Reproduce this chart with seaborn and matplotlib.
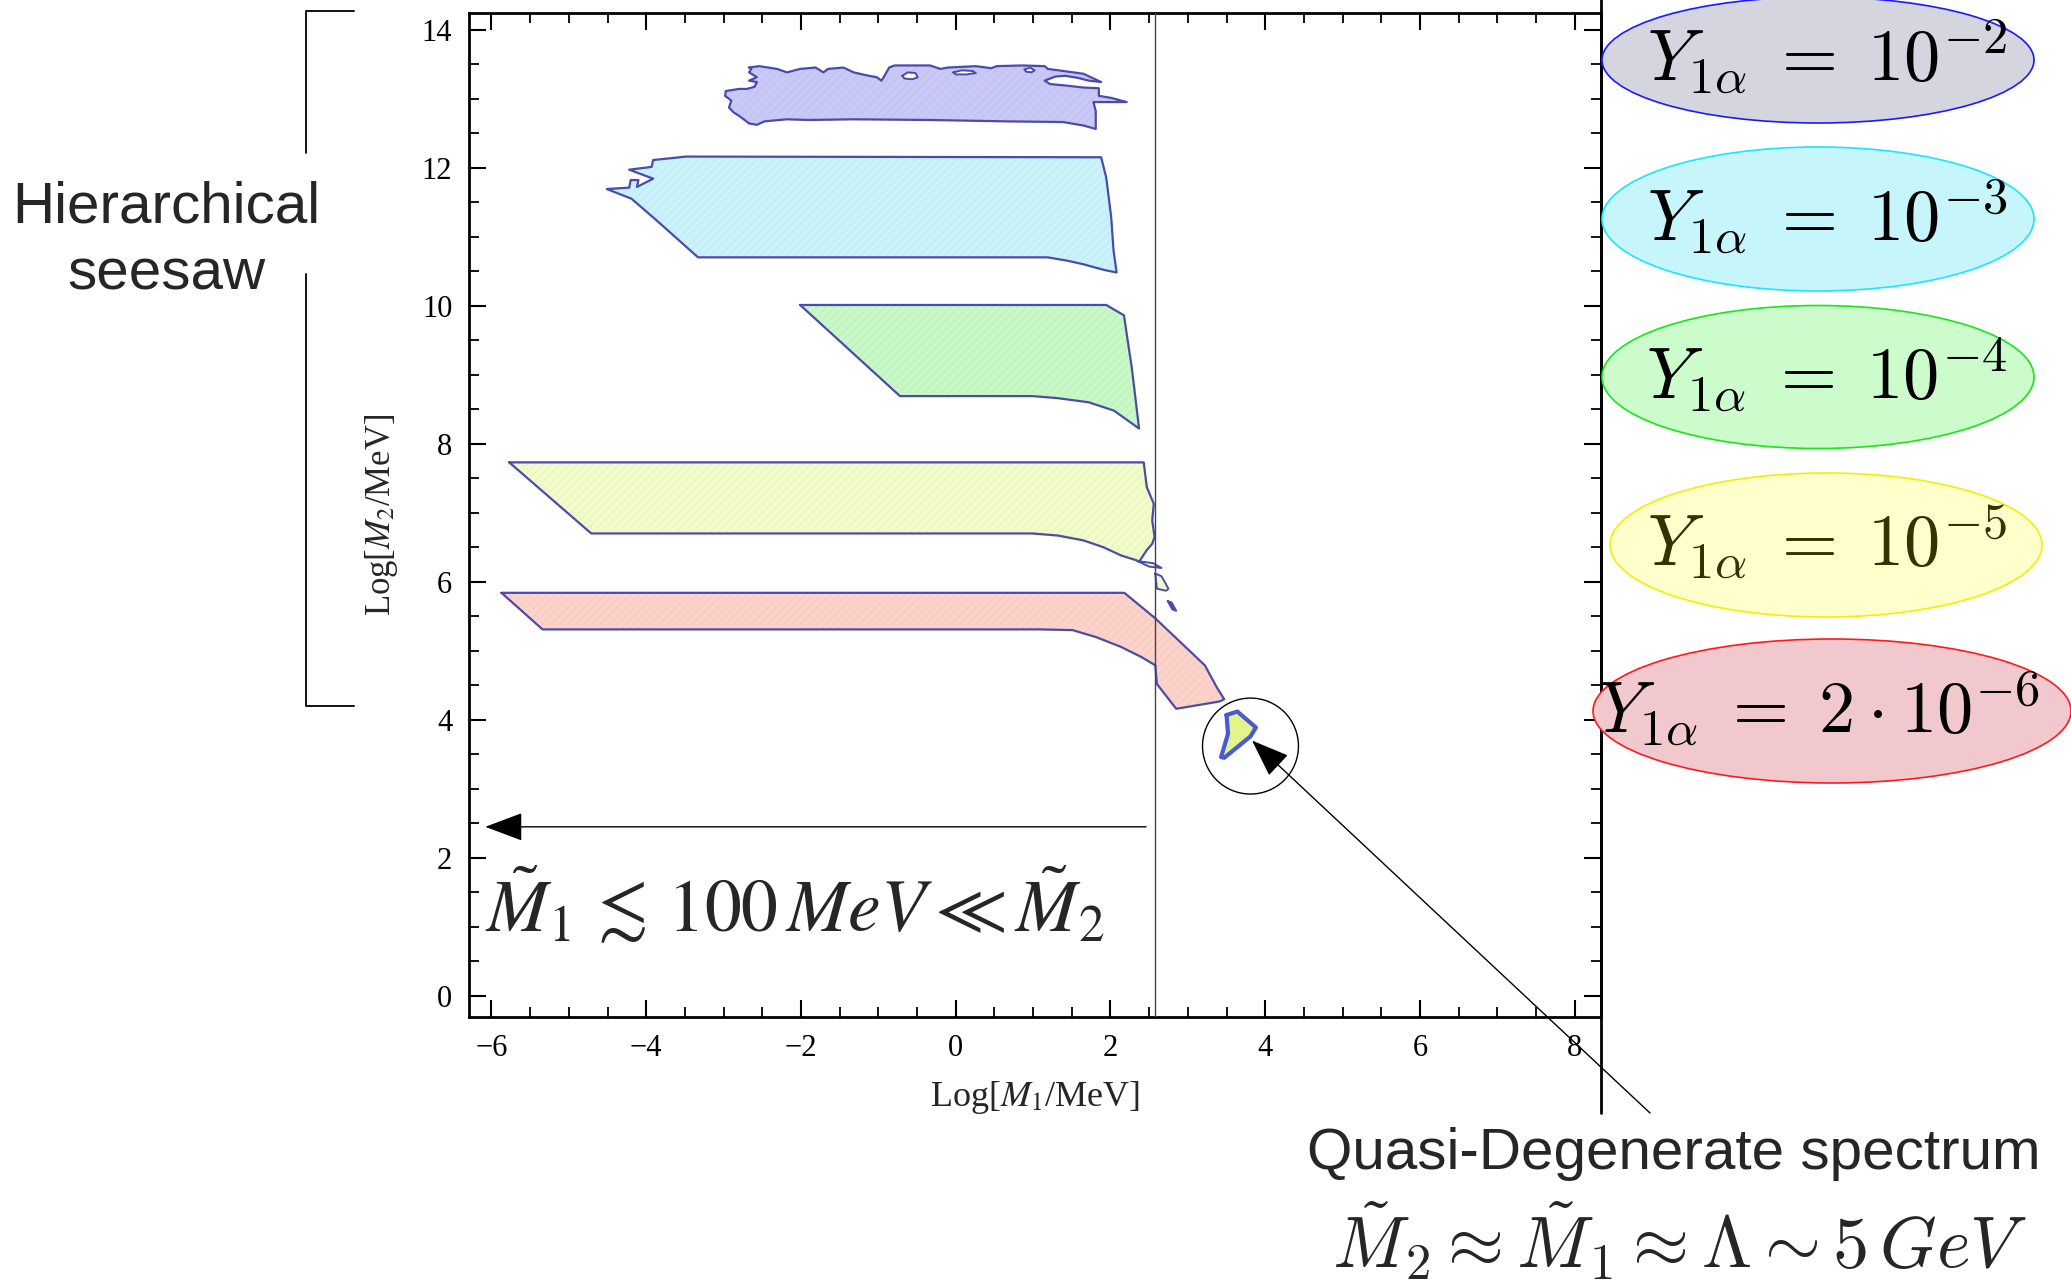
import numpy as np
import seaborn as sns
import matplotlib
matplotlib.use("Agg")
import matplotlib.pyplot as plt
from matplotlib.patches import Ellipse
from matplotlib.lines import Line2D

# Allowed regions in the (Log[M1/MeV], Log[M2/MeV]) plane for each Yukawa coupling
y1e2_x = [-2.67, -2.54, -2.31, -2.18, -2.01, -1.81, -1.71, -1.65, -1.45, -1.32, -1.12, -1.02,
          -0.96, -0.92, -0.86, -0.79, -0.33, -0.20, -0.10, 0.26, 0.46, 0.53, 0.86, 1.15, 1.19,
          1.39, 1.65, 1.88, 1.72, 1.58, 1.42, 1.29, 1.15, 1.22, 1.42, 1.65, 1.85, 1.85, 2.01,
          2.21, 1.78, 1.81, 1.81, 1.65, 1.39, 0.66, -0.33, -1.32, -1.91, -2.18, -2.47, -2.57,
          -2.67, -2.74, -2.80, -2.87, -2.93, -2.90, -2.98, -2.97, -2.80, -2.70, -2.60, -2.57,
          -2.67, -2.57, -2.67, -2.64]
y1e2_y = [13.45, 13.47, 13.43, 13.38, 13.43, 13.45, 13.38, 13.43, 13.45, 13.38, 13.33, 13.31,
          13.26, 13.33, 13.45, 13.48, 13.48, 13.43, 13.45, 13.47, 13.44, 13.47, 13.48, 13.47,
          13.43, 13.40, 13.36, 13.24, 13.26, 13.30, 13.33, 13.32, 13.26, 13.21, 13.19, 13.16,
          13.15, 13.04, 13.01, 12.95, 12.95, 12.82, 12.56, 12.61, 12.66, 12.67, 12.69, 12.70,
          12.69, 12.70, 12.67, 12.62, 12.64, 12.70, 12.75, 12.80, 12.87, 12.97, 13.04, 13.11,
          13.14, 13.14, 13.17, 13.24, 13.26, 13.31, 13.38, 13.43]

# small excluded pockets inside the 10^-2 region
hole_a_x = [-0.69, -0.62, -0.52, -0.49, -0.56, -0.66]
hole_a_y = [13.33, 13.38, 13.37, 13.31, 13.28, 13.29]
hole_b_x = [-0.03, 0.08, 0.22, 0.26, 0.14, 0.00]
hole_b_y = [13.38, 13.41, 13.40, 13.37, 13.35, 13.35]
hole_c_x = [0.89, 0.96, 1.02, 0.98, 0.91]
hole_c_y = [13.42, 13.45, 13.41, 13.38, 13.39]

y1e3_x = [-3.65, -3.49, 1.88, 1.945, 2.01, 2.04, 2.08, 1.91, 1.65, 1.45, 1.19, -3.33, -3.86,
          -4.19, -4.51, -4.22, -4.20, -4.10, -4.12, -3.91, -4.22, -3.93, -3.91]
y1e3_y = [12.14, 12.16, 12.15, 11.86, 11.28, 10.80, 10.48, 10.52, 10.60, 10.65, 10.70, 10.70,
          11.23, 11.55, 11.69, 11.71, 11.82, 11.82, 11.72, 11.84, 11.97, 12.01, 12.11]

y1e4_x = [-2.01, 1.946, 2.175, 2.21, 2.275, 2.37, 2.045, 1.72, 1.32, 0.99, -0.72]
y1e4_y = [10.01, 10.01, 9.86, 9.59, 9.11, 8.22, 8.48, 8.60, 8.66, 8.69, 8.69]

y1e5_x = [-5.77, 2.43, 2.47, 2.56, 2.54, 2.57, 2.54, 2.47, 2.37, 2.34, 2.14, 1.91, 1.65, 1.32,
          0.99, 0.59, -4.71]
y1e5_y = [7.73, 7.73, 7.37, 7.13, 6.89, 6.65, 6.55, 6.46, 6.29, 6.31, 6.38, 6.50, 6.60, 6.67,
          6.70, 6.70, 6.70]
y1e5_sliver_x = [2.35, 2.55, 2.66, 2.50]
y1e5_sliver_y = [6.30, 6.27, 6.20, 6.22]
y1e5_isle_x = [2.58, 2.66, 2.75, 2.72, 2.60]
y1e5_isle_y = [6.12, 6.08, 5.90, 5.87, 5.90]
y1e5_dash_x = [2.74, 2.79, 2.85, 2.80]
y1e5_dash_y = [5.72, 5.70, 5.58, 5.60]
y1e5_qd_x = [3.50, 3.64, 3.88, 3.81, 3.47, 3.43, 3.52]
y1e5_qd_y = [4.07, 4.12, 3.89, 3.76, 3.45, 3.46, 3.80]

y2e6_x = [-5.87, 2.18, 2.58, 3.22, 3.38, 3.47, 3.42, 3.38, 2.85, 2.60, 2.58, 2.40, 2.13, 1.81,
          1.51, 1.09, -5.34]
y2e6_y = [5.84, 5.84, 5.47, 4.79, 4.46, 4.30, 4.27, 4.26, 4.16, 4.52, 4.79, 4.91, 5.06, 5.20,
          5.30, 5.31, 5.31]

region_colors = ["#c9c9f7", "#c9f2fb", "#c6f9c6", "#f1fcc9", "#fdd3c9"]

coupling_labels = [r"$Y_{1\alpha}\;=\;10^{-2}$", r"$Y_{1\alpha}\;=\;10^{-3}$",
                   r"$Y_{1\alpha}\;=\;10^{-4}$", r"$Y_{1\alpha}\;=\;10^{-5}$",
                   r"$Y_{1\alpha}\;=\;2\cdot 10^{-6}$"]
badge_faces = ["#d5d5e0", "#c6f6fc", "#ccfccc", "#ffffcc", "#f2c8cf"]
badge_edges = ["#1a1aff", "#19e6ff", "#19e619", "#f5ee00", "#ff1a1a"]
badge_text = ["black", "black", "black", "#333300", "black"]

x_ticks = [-6, -4, -2, 0, 2, 4, 6, 8]
y_ticks = [0, 2, 4, 6, 8, 10, 12, 14]
m1_cut = 2.57          # Log[M1/MeV] of the 100 MeV boundary
arrow_level = 2.45     # height of the leftward arrow
qd_center = (3.81, 3.62)
qd_tip = (3.83, 3.70)

sns.set_theme(style="ticks")
plt.rcParams["font.family"] = ["Liberation Serif", "DejaVu Serif"]
plt.rcParams["mathtext.fontset"] = "cm"
plt.rcParams["hatch.linewidth"] = 0.5

W, H = 2071, 1283
fig = plt.figure(figsize=(W / 100, H / 100), dpi=100)
fig.patch.set_facecolor("white")
ax = fig.add_axes([469 / W, 1 - 1017 / H, (1601 - 469) / W, (1017 - 13) / H])
ax.set_facecolor("white")

EDGE = "#4b4bab"


def closed(xs, ys):
    return np.append(xs, xs[0]), np.append(ys, ys[0])


def draw_region(xs, ys, face, lw=1.6, edge=EDGE, hatch=True):
    cx, cy = closed(np.asarray(xs, float), np.asarray(ys, float))
    ax.fill(cx, cy, facecolor=face, edgecolor="none", zorder=2)
    if hatch:
        shade = tuple(np.array(matplotlib.colors.to_rgb(face)) * 0.95)
        ax.fill(cx, cy, facecolor="none", edgecolor=shade, hatch="////", lw=0, zorder=2)
    sns.lineplot(x=cx, y=cy, sort=False, estimator=None, color=edge, lw=lw, ax=ax, zorder=3)


regions = [(y1e2_x, y1e2_y), (y1e3_x, y1e3_y), (y1e4_x, y1e4_y), (y1e5_x, y1e5_y), (y2e6_x, y2e6_y)]
for (rx, ry), col in zip(regions, region_colors):
    draw_region(rx, ry, col)

for hx, hy in [(hole_a_x, hole_a_y), (hole_b_x, hole_b_y), (hole_c_x, hole_c_y)]:
    draw_region(hx, hy, "white", lw=1.4, hatch=False)

for sx, sy in [(y1e5_sliver_x, y1e5_sliver_y), (y1e5_isle_x, y1e5_isle_y)]:
    draw_region(sx, sy, region_colors[3], lw=1.4, hatch=False)
draw_region(y1e5_dash_x, y1e5_dash_y, EDGE, lw=1.4, hatch=False)
draw_region(y1e5_qd_x, y1e5_qd_y, "#e2f58a", lw=3.0, edge="#4a5ad0", hatch=False)

# M1 = 100 MeV boundary and the hierarchical-region arrow
head = "-|>,head_length=1.2,head_width=0.45"
ax.axvline(m1_cut, color="#444444", lw=1.0, zorder=4)
ax.annotate("", xy=(-6.08, arrow_level), xytext=(2.46, arrow_level),
            arrowprops=dict(arrowstyle=head, color="black", lw=1.0, mutation_scale=20,
                            shrinkA=0, shrinkB=0), zorder=5)
ax.text(-6.08, 1.30, r"$\tilde{M}_1 \,\lesssim\, 100\,MeV \ll \tilde{M}_2$", fontsize=53,
        ha="left", va="center", math_fontfamily="stix", zorder=5)

# circle around the quasi-degenerate island
ax.add_patch(Ellipse(qd_center, 1.24, 1.39, facecolor="none", edgecolor="black", lw=1.0, zorder=5))
ax.annotate("", xy=qd_tip, xycoords="data", xytext=(1650 / W, 1 - 1113 / H),
            textcoords="figure fraction",
            arrowprops=dict(arrowstyle=head, color="black", lw=1.0, mutation_scale=20,
                            shrinkA=0, shrinkB=0),
            annotation_clip=False, zorder=6)

ax.set_xlim(-6.29, 8.34)
ax.set_ylim(-0.305, 14.24)
ax.set_xticks(x_ticks)
ax.set_yticks(y_ticks)
ax.set_xticks(np.arange(-6, 8.01, 0.5), minor=True)
ax.set_yticks(np.arange(0, 14.01, 0.5), minor=True)
ax.set_xticklabels([f"{t:d}".replace("-", "\u2212") for t in x_ticks])
ax.set_yticklabels([f"{t:d}" for t in y_ticks])
ax.tick_params(which="both", direction="in", top=True, right=True, colors="black",
               labelsize=22, pad=12)
ax.tick_params(which="major", length=12, width=1.5)
ax.tick_params(which="minor", length=7, width=1.3)
for side in ["left", "top", "bottom", "right"]:
    ax.spines[side].set_color("black")
    ax.spines[side].set_linewidth(2.0)
ax.grid(False)

ax.set_xlabel(r"Log[$M_1$/MeV]", fontsize=26, math_fontfamily="stix", labelpad=12)
ax.set_ylabel(r"Log[$M_2$/MeV]", fontsize=25, math_fontfamily="stix", labelpad=16)

# right frame line extended across the figure height
fig.add_artist(Line2D([1601 / W, 1601 / W], [1.0, 1 - 1113 / H], color="black", lw=2.0))

# bracket marking the hierarchical seesaw range
bx, btick = 306 / W, 354 / W
fig.add_artist(Line2D([btick, bx, bx], [1 - 11 / H, 1 - 11 / H, 1 - 153 / H], color="black", lw=1.3))
fig.add_artist(Line2D([bx, bx, btick], [1 - 274 / H, 1 - 706 / H, 1 - 706 / H], color="black", lw=1.3))
fig.text(166 / W, 1 - 241 / H, "Hierarchical\nseesaw", ha="center", va="center",
         fontsize=42, family=["Liberation Sans", "DejaVu Sans"], linespacing=1.3)

# coupling badges
badge_centers = [(1818, 60), (1818, 219), (1818, 377), (1826, 545), (1832, 711)]
badge_sizes = [(432, 126), (432, 144), (432, 143), (432, 144), (478, 144)]
text_centers = [(1827, 56), (1827, 216), (1827, 374), (1827, 541), (1819, 708)]
for lab, fc, ec, tc, (cx, cy), (bw, bh), (tx, ty) in zip(coupling_labels, badge_faces, badge_edges,
                                                          badge_text, badge_centers, badge_sizes,
                                                          text_centers):
    fig.add_artist(Ellipse((cx / W, 1 - cy / H), bw / W, bh / H, transform=fig.transFigure,
                           facecolor=fc, edgecolor=ec, lw=1.2, zorder=3))
    fig.text(tx / W, 1 - ty / H, lab, ha="center", va="center", fontsize=52, color=tc,
             math_fontfamily="cm", zorder=4)

fig.text(1674 / W, 1 - 1154 / H, "Quasi-Degenerate spectrum", ha="center", va="center",
         fontsize=42, family=["Liberation Sans", "DejaVu Sans"])
fig.text(1680 / W, 1 - 1268 / H, r"$\tilde{M}_2 \approx \tilde{M}_1 \approx \Lambda \sim 5\,GeV$",
         ha="center", va="baseline", fontsize=52, math_fontfamily="cm")

fig.savefig("out.png", dpi=100)
